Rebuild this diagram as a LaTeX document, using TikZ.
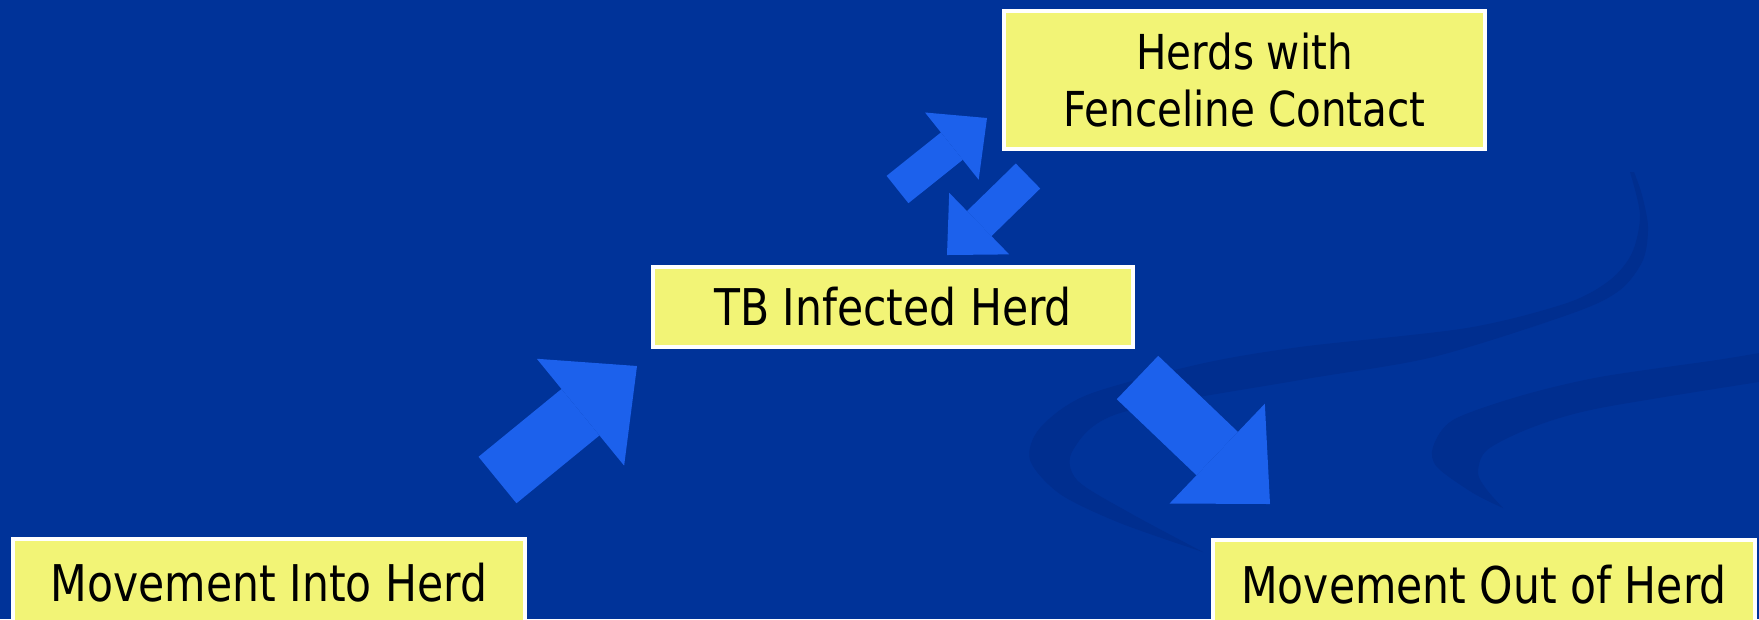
\documentclass[tikz,border=0pt]{standalone}
\usepackage{fontspec}
\setmainfont{DejaVu Sans}[FakeStretch=0.84]
\usepackage{tikz}
\usetikzlibrary{arrows.meta}

\definecolor{slideblue}{RGB}{0,51,153}
\definecolor{swooshblue}{RGB}{0,46,143}
\definecolor{arrowblue}{RGB}{28,97,236}
\definecolor{cardyellow}{RGB}{242,244,118}

\begin{document}
\begin{tikzpicture}[x=0.1mm, y=-0.1mm,
    card/.style={draw=white, line width=0.4mm, fill=cardyellow, inner sep=0pt, align=center,
      font=\fontsize{14.4}{16.2}\selectfont},
    bigflow/.style={draw=arrowblue, line width=6mm, -{Triangle[length=7.3mm, width=13.8mm, line width=0pt]}},
    smallflow/.style={draw=arrowblue, line width=3.5mm, -{Triangle[length=4.5mm, width=8.6mm, line width=0pt]}}]
        \useasboundingbox (0,0) rectangle (1759,619);
        \clip (0,0) rectangle (1759,619);
        \fill [slideblue] (0,0) rectangle (1759,619);
        \fill [swooshblue] plot [smooth] coordinates {(1630,172) (1640,215) (1632,253) (1610,280) (1567,303) (1467,328) (1300,347) (1200,364) (1087,395) (1040,428) (1030,460) (1060,494) (1120,523) (1203,552)}
            -- plot [smooth] coordinates {(1203,552) (1130,513) (1077,480) (1073,450) (1120,413) (1300,380) (1433,357) (1573,313) (1620,290) (1643,260) (1648,227) (1642,195) (1634,172)} -- cycle;
        \fill [swooshblue] plot [smooth] coordinates {(1765,352) (1717,360) (1600,377) (1520,396) (1453,420) (1433,447) (1437,467) (1473,493) (1503,508)}
            -- plot [smooth] coordinates {(1503,508) (1487,490) (1478,473) (1487,450) (1533,427) (1600,408) (1765,381)} -- cycle;
        \node [card, minimum width=48.1mm, minimum height=13.8mm, font=\fontsize{13.7}{16.2}\selectfont] (herds) at (1244.5,80) {Herds with\\Fenceline Contact};
        \node [card, minimum width=48mm, minimum height=8mm] (tb) at (893,307) {TB Infected Herd};
        \node [card, minimum width=51.2mm, minimum height=8.8mm] (into) at (269,583) {Movement Into Herd};
        \node [card, minimum width=54.2mm, minimum height=9mm] (out) at (1484,585) {Movement Out of Herd};
        \coordinate (into-tail) at (497.5,480);
        \coordinate (into-tip) at (637,366);
        \coordinate (out-tail) at (1137.5,377.5);
        \coordinate (out-tip) at (1270,504);
        \coordinate (up-tail) at (897.5,189.5);
        \coordinate (up-tip) at (987,118);
        \coordinate (down-tail) at (1028,176);
        \coordinate (down-tip) at (947,255);
        \draw [bigflow] (into-tail) -- (into-tip);
        \draw [bigflow] (out-tail) -- (out-tip);
        \draw [smallflow] (up-tail) -- (up-tip);
        \draw [smallflow] (down-tail) -- (down-tip);
\end{tikzpicture}
\end{document}
